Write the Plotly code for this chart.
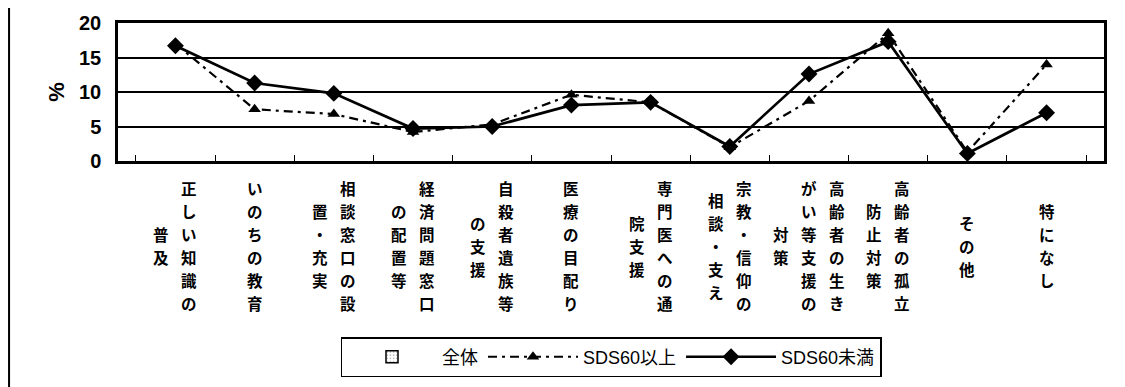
import plotly.graph_objects as go

# 項目（縦書きラベル）
categories = [
    "正しい知識の普及",
    "いのちの教育",
    "相談窓口の設置・充実",
    "経済問題窓口の配置等",
    "自殺者遺族等の支援",
    "医療の目配り",
    "専門医への通院支援",
    "宗教・信仰の相談・支え",
    "高齢者の生きがい等支援の対策",
    "高齢者の孤立防止対策",
    "その他",
    "特になし",
]

# %
sds60_over = [17.0, 7.5, 6.8, 4.2, 5.3, 9.6, 8.5, 2.0, 8.7, 18.5, 1.3, 14.0]
sds60_under = [16.7, 11.3, 9.8, 4.7, 5.0, 8.1, 8.5, 2.1, 12.6, 17.3, 1.1, 7.0]

y_ticks = [0, 5, 10, 15, 20]

JP_FONT = "Noto Sans CJK JP"
CHARS_PER_COL = 6
COL_GAP = 28    # px between vertical text columns
ROW_GAP = 23    # px between characters in a column
FIRST_ROW = 27  # px from x axis down to centre of first row

fig = go.Figure()

# 全体 (凡例のみ)
fig.add_trace(go.Bar(
    x=categories,
    y=[None] * len(categories),
    name="全体",
    marker=dict(color="white", line=dict(color="black", width=1.5),
                pattern=dict(shape=".", fgcolor="#555555", bgcolor="white", size=4)),
))

fig.add_trace(go.Scatter(
    x=categories,
    y=sds60_over,
    mode="lines+markers",
    name="SDS60以上",
    line=dict(color="black", width=2.2, dash="9px,5px,3px,5px"),
    marker=dict(symbol="triangle-up", size=11, color="black"),
))

fig.add_trace(go.Scatter(
    x=categories,
    y=sds60_under,
    mode="lines+markers",
    name="SDS60未満",
    line=dict(color="black", width=2.7),
    marker=dict(symbol="diamond", size=13, color="black"),
))

# 縦書きラベル: 6文字ごとに列を分け、右から左へ、列内は縦中央揃え
for cat in categories:
    cols = [cat[i:i + CHARS_PER_COL] for i in range(0, len(cat), CHARS_PER_COL)]
    n = len(cols)
    for i, col in enumerate(cols):
        pad = (CHARS_PER_COL - len(col)) / 2
        for r, ch in enumerate(col):
            fig.add_annotation(
                x=cat, xref="x",
                y=0, yref="paper",
                yshift=-(FIRST_ROW + (r + pad) * ROW_GAP),
                xshift=((n - 1) / 2 - i) * COL_GAP,
                text=ch,
                showarrow=False,
                xanchor="center", yanchor="middle",
                font=dict(family=JP_FONT, size=15.5, color="black", weight="bold"),
            )

# 外枠の左線
fig.add_shape(type="line", xref="paper", yref="paper",
              x0=-0.1105, x1=-0.1105, y0=-1.7, y1=1.11,
              line=dict(color="black", width=2))

fig.update_layout(
    width=1125,
    height=387,
    margin=dict(l=110, r=29, t=15, b=234, autoexpand=False),
    paper_bgcolor="white",
    plot_bgcolor="white",
    showlegend=True,
    barmode="group",
    xaxis=dict(
        type="category",
        automargin=False,
        showticklabels=False,
        ticks="inside",
        tickson="boundaries",
        ticklen=6,
        tickcolor="black",
        showgrid=False,
        showline=True,
        mirror=True,
        linecolor="black",
        linewidth=2.5,
    ),
    yaxis=dict(
        range=[0, 20],
        automargin=False,
        tickvals=y_ticks,
        ticks="",
        ticklabelstandoff=10,
        showgrid=True,
        gridcolor="black",
        gridwidth=1.5,
        showline=True,
        mirror=True,
        linecolor="black",
        linewidth=2.5,
        zeroline=False,
        tickfont=dict(family="Liberation Sans Narrow, Arial", size=20, color="black", weight="bold"),
        title=dict(text="%", standoff=9,
                   font=dict(family="Arial", size=22, color="black", weight="bold")),
    ),
    legend=dict(
        orientation="h",
        xref="paper", x=0.5, xanchor="center",
        yref="container", y=0.098, yanchor="middle",
        bordercolor="black",
        borderwidth=1.5,
        bgcolor="white",
        itemwidth=90,
        font=dict(family="Arial, " + JP_FONT, size=18, color="black"),
    ),
)

fig.write_html("out.html")
